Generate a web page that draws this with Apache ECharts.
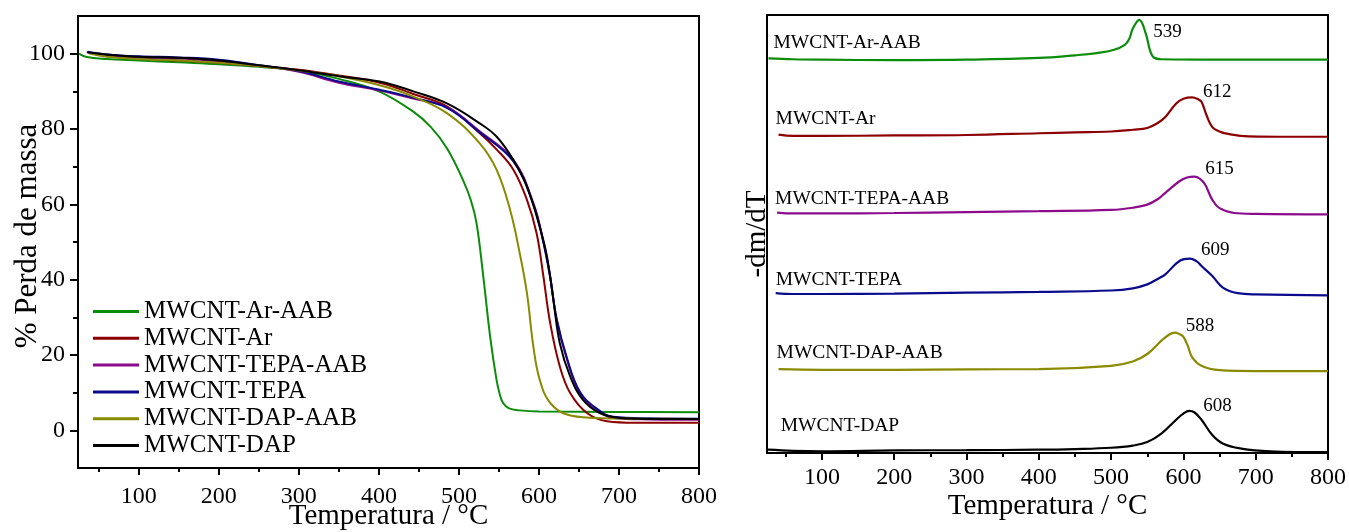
<!DOCTYPE html>
<html>
<head>
<meta charset="utf-8">
<script src="https://cdn.jsdelivr.net/npm/echarts@6/dist/echarts.min.js"></script>
<style>
  html, body { margin: 0; padding: 0; background: #ffffff; }
  #chart { width: 1349px; height: 532px; }
</style>
</head>
<body>
<div id="chart"></div>
<script>
// Sample names and line colours
const sampleNames = ['MWCNT-Ar-AAB', 'MWCNT-Ar', 'MWCNT-TEPA-AAB', 'MWCNT-TEPA', 'MWCNT-DAP-AAB', 'MWCNT-DAP'];
const sampleColors = ['#0b8c0b', '#8c0000', '#8c0a8c', '#0a0a8c', '#8a8a00', '#000000'];

// Tick positions
const tempMajorTicks = [100, 200, 300, 400, 500, 600, 700, 800];
const tempMinorTicks = [50, 150, 250, 350, 450, 550, 650, 750];
const massMajorTicks = [0, 20, 40, 60, 80, 100];
const massMinorTicks = [10, 30, 50, 70, 90];

// TGA curves: [temperature °C, % mass]
const tgaArAAB = [[25,100.0],[35,99.1],[60,98.6],[100,98.2],[150,97.7],[200,97.2],[250,96.5],[300,95.5],[350,93.3],[400,90.0],[443,84.6],[465,80.5],[485,74.9],[505,66.5],[515,61.0],[522,55.0],[530,41.7],[539,24.9],[547,13.4],[551,9.6],[555,7.3],[562,5.9],[576,5.3],[600,5.0],[700,4.9],[800,4.8]];
const tgaAr = [[41,100.1],[60,99.4],[100,98.7],[150,98.2],[200,97.6],[250,96.7],[300,95.7],[350,94.2],[401,92.3],[443,89.3],[485,86.0],[526,78.9],[547,74.6],[568,69.2],[585,61.2],[597,52.4],[605,41.7],[614,28.5],[626,17.0],[639,9.9],[660,4.6],[685,2.4],[720,2.0],[800,2.0]];
const tgaTepaAAB = [[37,100.3],[60,99.6],[100,99.0],[150,98.7],[200,98.0],[250,96.8],[300,95.2],[350,92.3],[401,90.2],[443,88.1],[485,85.8],[526,79.4],[568,71.8],[593,60.3],[605,50.6],[614,40.9],[622,29.4],[635,18.8],[651,9.9],[672,5.5],[693,3.3],[740,2.9],[800,2.8]];
const tgaTepa = [[36,100.5],[60,99.8],[100,99.3],[150,99.0],[200,98.4],[250,96.9],[300,95.4],[350,92.6],[401,90.4],[443,88.3],[485,85.6],[526,79.1],[568,71.4],[593,60.0],[605,50.4],[614,40.6],[622,29.8],[635,19.2],[651,10.3],[672,5.8],[693,3.6],[740,3.2],[800,3.1]];
const tgaDapAAB = [[38,100.1],[60,99.2],[100,98.6],[150,98.2],[200,97.6],[250,96.7],[300,95.5],[350,94.0],[401,91.6],[443,88.6],[485,84.2],[526,76.2],[547,69.2],[564,58.5],[576,47.0],[585,36.4],[593,22.3],[601,13.4],[614,7.3],[635,4.2],[672,3.3],[720,3.1],[800,3.0]];
const tgaDap = [[35,100.4],[60,99.8],[100,99.2],[150,98.9],[200,98.2],[250,96.9],[300,95.6],[350,94.0],[401,92.6],[443,90.0],[485,86.8],[526,81.5],[547,78.0],[568,71.8],[585,64.7],[601,54.0],[610,46.2],[618,34.7],[626,23.2],[639,14.3],[655,8.1],[676,4.6],[701,3.3],[750,3.0],[800,3.0]];

// DTG curves (stacked, arbitrary units): [temperature °C, -dm/dT]
const dtgArAAB = [[26,90.1],[60,89.9],[100,89.8],[200,89.7],[300,89.8],[400,90.2],[450,90.8],[480,91.3],[503,92.0],[519,93.2],[525,94.5],[530,96.9],[539,98.9],[548,95.7],[554,91.8],[559,90.3],[570,89.9],[650,89.8],[800,89.8]];
const dtgAr = [[40,72.7],[60,72.4],[100,72.4],[200,72.5],[300,72.6],[400,73.0],[450,73.2],[500,73.4],[530,73.8],[550,74.2],[565,75.4],[575,76.7],[590,79.8],[600,80.9],[612,81.2],[620,80.8],[625,80.2],[632,77.1],[640,74.4],[650,73.4],[660,72.9],[690,72.3],[750,72.2],[800,72.2]];
const dtgTepaAAB = [[38,54.9],[60,54.7],[100,54.7],[200,54.8],[300,55.0],[400,55.2],[500,55.5],[530,56.0],[550,56.7],[565,58.0],[575,59.4],[595,62.1],[605,62.9],[615,63.1],[623,62.6],[630,61.3],[640,57.8],[650,55.9],[670,54.8],[700,54.6],[800,54.5]];
const dtgTepa = [[36,36.5],[60,36.3],[100,36.3],[200,36.4],[300,36.6],[400,36.8],[500,37.1],[530,37.6],[550,38.5],[565,39.8],[575,40.8],[595,43.9],[609,44.4],[618,43.8],[625,42.7],[640,40.4],[655,37.7],[675,36.5],[700,36.2],[800,36.0]];
const dtgDapAAB = [[40,19.15],[100,19.0],[200,19.0],[300,19.1],[400,19.15],[500,19.9],[530,20.9],[550,22.6],[570,25.7],[580,27.0],[588,27.5],[595,27.1],[600,26.5],[606,24.5],[612,21.9],[625,19.9],[650,18.9],[700,18.7],[800,18.7]];
const dtgDap = [[25,0.75],[60,0.5],[100,0.4],[200,0.6],[300,0.65],[400,0.75],[450,0.9],[500,1.2],[530,1.7],[550,2.5],[570,4.5],[590,7.6],[600,9.0],[608,9.6],[615,9.3],[625,7.6],[640,4.1],[655,2.1],[680,1.0],[720,0.4],[800,0.2]];

// Peak temperatures of the DTG curves
const dtgPeakTemps = [539, 612, 615, 609, 588, 608];

const tgaCurves = [tgaArAAB, tgaAr, tgaTepaAAB, tgaTepa, tgaDapAAB, tgaDap];
const dtgCurves = [dtgArAAB, dtgAr, dtgTepaAAB, dtgTepa, dtgDapAAB, dtgDap];

// Label placement (pixels) for the stacked DTG panel
const nameLabelOffsets = [[0, -15], [-8, -16], [-7, -14], [-5, -13], [-7, -16], [8, -24]];
const peakLabelOffsets = [[9, 12], [6, -5], [6, -8], [6, -9], [6, -7], [9, -5]];

const serif = 'Liberation Serif, Times New Roman, serif';
const black = '#000000';

function mainTempAxis(gridIndex, labelMargin, nameGap) {
  return {
    gridIndex, type: 'value', position: 'bottom', min: 24, max: 800,
    axisLine: { show: true, onZero: false, lineStyle: { color: black, width: 2 } },
    axisTick: { show: true, customValues: tempMajorTicks, length: 7, lineStyle: { color: black, width: 2 } },
    axisLabel: { show: true, customValues: tempMajorTicks, margin: labelMargin, fontSize: 24, fontFamily: serif, color: black },
    splitLine: { show: false },
    name: 'Temperatura / °C', nameLocation: 'middle', nameGap, nameMoveOverlap: false,
    nameTextStyle: { fontSize: 29, fontFamily: serif, color: black }
  };
}
function minorTempAxis(gridIndex) {
  return {
    gridIndex, type: 'value', position: 'bottom', min: 24, max: 800,
    axisLine: { show: false, onZero: false },
    axisTick: { show: true, customValues: tempMinorTicks, length: 4, lineStyle: { color: black, width: 2 } },
    axisLabel: { show: false }, splitLine: { show: false }
  };
}

const series = [];
tgaCurves.forEach((curve, i) => {
  series.push({
    type: 'line', name: sampleNames[i], xAxisIndex: 0, yAxisIndex: 0,
    data: curve, showSymbol: false, symbol: 'none', smooth: 0.4,
    color: sampleColors[i], lineStyle: { width: 2, color: sampleColors[i] }, z: 3 + (i === 0 ? 0 : 1)
  });
});
dtgCurves.forEach((curve, i) => {
  const peak = curve.find(p => p[0] === dtgPeakTemps[i]);
  const first = curve[0];
  series.push({
    type: 'line', name: sampleNames[i], xAxisIndex: 2, yAxisIndex: 2,
    data: curve, showSymbol: false, symbol: 'none', smooth: 0.4,
    color: sampleColors[i], lineStyle: { width: 2.2, color: sampleColors[i] },
    markPoint: {
      symbol: 'circle', symbolSize: 0, silent: true, animation: false,
      data: [
        { coord: [first[0], first[1]], value: sampleNames[i],
          label: { show: true, position: 'right', offset: nameLabelOffsets[i], formatter: sampleNames[i],
                   fontSize: 19.5, fontFamily: serif, color: black } },
        { coord: [peak[0], peak[1]], value: peak[0],
          label: { show: true, position: 'right', offset: peakLabelOffsets[i], formatter: String(peak[0]),
                   fontSize: 19, fontFamily: serif, color: black } }
      ]
    }
  });
});

const chart = echarts.init(document.getElementById('chart'), null, { renderer: 'canvas' });
chart.setOption({
  animation: false,
  backgroundColor: '#ffffff',
  textStyle: { fontFamily: serif },
  grid: [
    { left: 78, top: 16, width: 621, height: 452, show: true, borderColor: black, borderWidth: 2,
      backgroundColor: 'transparent', outerBoundsMode: 'none' },
    { left: 767, top: 15, width: 561, height: 438, show: true, borderColor: black, borderWidth: 2,
      backgroundColor: 'transparent', outerBoundsMode: 'none' }
  ],
  legend: {
    data: sampleNames, orient: 'vertical', left: 93, top: 299, padding: 0,
    icon: 'rect', itemWidth: 46, itemHeight: 3, itemGap: 1.8,
    textStyle: { fontSize: 25, lineHeight: 24, fontFamily: serif, color: black },
    selectedMode: false
  },
  xAxis: [
    mainTempAxis(0, 17, 34),
    minorTempAxis(0),
    mainTempAxis(1, 13, 39),
    minorTempAxis(1)
  ],
  yAxis: [
    {
      gridIndex: 0, type: 'value', position: 'left', min: -10, max: 110,
      axisLine: { show: true, onZero: false, lineStyle: { color: black, width: 2 } },
      axisTick: { show: true, customValues: massMajorTicks, length: 8, lineStyle: { color: black, width: 2 } },
      axisLabel: { show: true, customValues: massMajorTicks, margin: 13, fontSize: 24, fontFamily: serif, color: black },
      splitLine: { show: false },
      name: '% Perda de massa', nameLocation: 'middle', nameGap: 35, nameMoveOverlap: false,
      nameTextStyle: { fontSize: 31, fontFamily: serif, color: black, padding: [0, 0, 0, 12] }
    },
    {
      gridIndex: 0, type: 'value', position: 'left', min: -10, max: 110,
      axisLine: { show: false, onZero: false },
      axisTick: { show: true, customValues: massMinorTicks, length: 5, lineStyle: { color: black, width: 2 } },
      axisLabel: { show: false }, splitLine: { show: false }
    },
    {
      gridIndex: 1, type: 'value', position: 'left', min: 0, max: 100,
      axisLine: { show: true, onZero: false, lineStyle: { color: black, width: 2 } },
      axisTick: { show: false }, axisLabel: { show: false }, splitLine: { show: false },
      name: '-dm/dT', nameLocation: 'middle', nameGap: -5, nameMoveOverlap: false,
      nameTextStyle: { fontSize: 29, fontFamily: serif, color: black }
    }
  ],
  series
});
</script>
</body>
</html>
